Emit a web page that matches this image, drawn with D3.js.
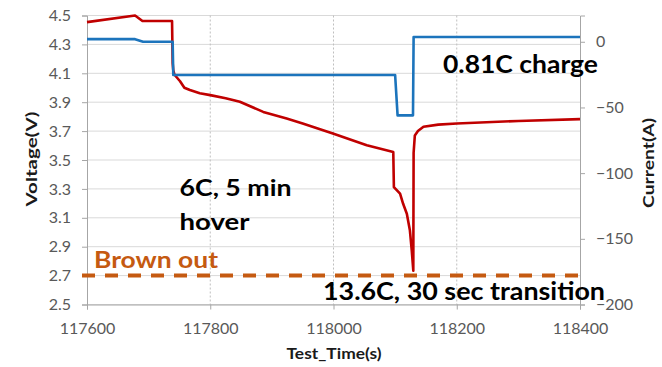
<!DOCTYPE html>
<html>
<head>
<meta charset="utf-8">
<script src="https://cdn.jsdelivr.net/npm/d3@7"></script>
<style>
  body { margin: 0; background: #fff; }
  text { font-family: Lato, "Open Sans", sans-serif; }
</style>
</head>
<body>
<svg id="chart" width="662" height="367"></svg>
<script>
// Cell voltage trace (s, V)
const voltageTime = [117600, 117678, 117690, 117738, 117739, 117740, 117742, 117751, 117758, 117767,
  117783, 117800, 117825, 117848, 117886, 117924, 117950, 117999, 118054, 118097,
  118098, 118108, 118113, 118119, 118124, 118127, 118129.5, 118130, 118132, 118137,
  118146, 118170, 118200, 118300, 118400];
const voltage = [4.454, 4.50, 4.462, 4.462, 4.17, 4.12, 4.09, 4.045, 4.00, 3.984,
  3.962, 3.949, 3.927, 3.903, 3.833, 3.787, 3.753, 3.683, 3.602, 3.556,
  3.312, 3.267, 3.197, 3.128, 3.012, 2.873, 2.734, 3.55, 3.67, 3.70,
  3.73, 3.745, 3.753, 3.770, 3.783];

// Pack current trace (s, A)
const currentTime = [117600, 117678, 117691, 117739, 117740, 118100, 118104, 118129, 118130, 118400];
const current = [2.0, 2.0, 0.0, 0.0, -25.3, -25.3, -56.0, -56.0, 3.6, 3.6];

const timeTicks = [117600, 117800, 118000, 118200, 118400];
const voltageTicks = [2.5, 2.7, 2.9, 3.1, 3.3, 3.5, 3.7, 3.9, 4.1, 4.3, 4.5];
const currentTicks = [-200, -150, -100, -50, 0];
const brownOutVoltage = 2.7;

const svg = d3.select("#chart");
const plot = { left: 87, right: 580, top: 15.5, bottom: 304.5 };

const x = d3.scaleLinear().domain([117600, 118400]).range([plot.left, plot.right]);
const yV = d3.scaleLinear().domain([2.5, 4.5]).range([plot.bottom, plot.top]);
const yA = d3.scaleLinear().domain([-200, 20]).range([plot.bottom, plot.top]);

// horizontal gridlines
svg.append("g").selectAll("line").data(voltageTicks).join("line")
  .attr("x1", plot.left).attr("x2", plot.right)
  .attr("y1", d => yV(d)).attr("y2", d => yV(d))
  .attr("stroke", "#d9d9d9").attr("stroke-width", 1);

// vertical dotted gridlines
svg.append("g").selectAll("line").data(timeTicks.slice(1, -1)).join("line")
  .attr("x1", d => x(d)).attr("x2", d => x(d))
  .attr("y1", plot.top).attr("y2", plot.bottom)
  .attr("stroke", "#bfbfbf").attr("stroke-width", 1).attr("stroke-dasharray", "2,2");

// axes
const axisStyle = g => {
  g.select(".domain").attr("stroke", "#a6a6a6");
  g.selectAll(".tick line").attr("stroke", "#a6a6a6");
  g.selectAll(".tick text").attr("fill", "#595959").style("font-size", "16px")
    .style("font-family", "Lato, 'Open Sans', sans-serif");
};

svg.append("g").attr("transform", `translate(0,${plot.bottom})`)
  .call(d3.axisBottom(x).tickValues(timeTicks).tickFormat(d3.format("d")).tickSizeOuter(0).tickSize(5).tickPadding(13))
  .call(axisStyle);

svg.append("g").attr("transform", `translate(${plot.left},0)`)
  .call(d3.axisLeft(yV).tickValues(voltageTicks).tickFormat(d3.format(".1f")).tickSizeOuter(0).tickSize(5).tickPadding(11))
  .call(axisStyle);

svg.append("g").attr("transform", `translate(${plot.right},0)`)
  .call(d3.axisRight(yA).tickValues(currentTicks).tickFormat(d3.format("d")).tickSizeOuter(0).tickSize(5).tickPadding(11))
  .call(axisStyle);

// axis titles
const title = (txt, len) => svg.append("text")
  .attr("text-anchor", "middle").attr("font-weight", "bold").attr("font-size", 15).attr("fill", "#1a1a1a")
  .attr("textLength", len).attr("lengthAdjust", "spacingAndGlyphs").text(txt);
title("Voltage(V)", 95).attr("transform", "translate(37,159) rotate(-90)");
title("Current(A)", 90).attr("transform", "translate(654,163) rotate(-90)");
title("Test_Time(s)", 95).attr("transform", "translate(334,359)");

// traces
const vLine = d3.line().x(d => x(d[0])).y(d => yV(d[1]));
const aLine = d3.line().x(d => x(d[0])).y(d => yA(d[1]));

svg.append("path").datum(d3.zip(voltageTime, voltage))
  .attr("d", vLine).attr("fill", "none").attr("stroke", "#c00000")
  .attr("stroke-width", 2.6).attr("stroke-linejoin", "round");

svg.append("path").datum(d3.zip(currentTime, current))
  .attr("d", aLine).attr("fill", "none").attr("stroke", "#1c74bc")
  .attr("stroke-width", 2.6).attr("stroke-linejoin", "round");

// brown-out threshold
svg.append("line")
  .attr("x1", plot.left - 5).attr("x2", plot.right)
  .attr("y1", yV(brownOutVoltage)).attr("y2", yV(brownOutVoltage))
  .attr("stroke", "#c55a11").attr("stroke-width", 4).attr("stroke-dasharray", "13,10");

// annotations
const note = (txt, px, py, size, len, color) =>
  svg.append("text").attr("x", px).attr("y", py)
    .attr("font-weight", "bold").attr("font-size", size).attr("fill", color || "#000")
    .attr("textLength", len).attr("lengthAdjust", "spacingAndGlyphs").text(txt);

note("0.81C charge", 443, 73, 25, 155);
note("6C, 5 min", 179.5, 196, 22, 112);
note("hover", 179.5, 230, 22, 70);
note("Brown out", 94, 268, 22, 124, "#c55a11");
note("13.6C, 30 sec transition", 323, 300, 24, 282);
</script>
</body>
</html>
